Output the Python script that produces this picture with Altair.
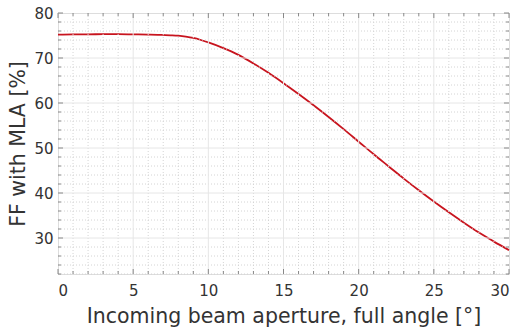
import altair as alt
import pandas as pd

# data
angle = [0, 1, 2, 3, 4, 5, 6, 7, 7.5, 8, 8.5, 9, 9.5, 10, 11, 12, 13, 14, 15, 16, 17, 18, 19, 20,
         21, 22, 23, 24, 25, 26, 27, 28, 29, 30]
ff = [75.2, 75.25, 75.25, 75.3, 75.3, 75.25, 75.2, 75.12, 75.05, 74.95, 74.75, 74.45, 74.0, 73.45,
      72.2, 70.7, 68.8, 66.7, 64.4, 62.0, 59.5, 56.9, 54.2, 51.4, 48.6, 45.9, 43.2, 40.6,
      38.1, 35.7, 33.4, 31.2, 29.2, 27.3]

x_major = [0, 5, 10, 15, 20, 25, 30]
y_major = [30, 40, 50, 60, 70, 80]
x_minor = [v for v in range(0, 31) if v % 5 != 0]
y_minor = [v for v in range(22, 81, 2) if v % 10 != 0]

W, H = 451, 261
X_DOM = [0, 30]
Y_DOM = [22, 80]
FONT = "DejaVu Sans"

xs = alt.Scale(domain=X_DOM, nice=False, zero=False)
ys = alt.Scale(domain=Y_DOM, nice=False, zero=False)

x_axis = alt.Axis(values=x_major, title="Incoming beam aperture, full angle [°]",
                  grid=False, ticks=False, domain=False, labelPadding=9,
                  labelFontSize=15, titleFontSize=20.5, titlePadding=8,
                  labelColor="#333333", titleColor="#333333",
                  labelFont=FONT, titleFont=FONT, titleFontWeight="normal")
y_axis = alt.Axis(values=y_major, title="FF with MLA [%]",
                  grid=False, ticks=False, domain=False, labelPadding=5,
                  labelFontSize=15, titleFontSize=20.5, titlePadding=5,
                  labelColor="#333333", titleColor="#333333",
                  labelFont=FONT, titleFont=FONT, titleFontWeight="normal")

df = pd.DataFrame({"angle": angle, "ff": ff})
dxm = pd.DataFrame({"v": x_minor})
dym = pd.DataFrame({"v": y_minor})
dxM = pd.DataFrame({"v": x_major[1:-1]})
dyM = pd.DataFrame({"v": y_major[:-1]})
dxMall = pd.DataFrame({"v": x_major})
dyMall = pd.DataFrame({"v": y_major})

minor_col = "#d4d4d4"
major_col = "#e6e6e6"
tick_col = "#888888"

def X(f):
    return alt.X(f, type="quantitative", scale=xs, axis=x_axis)

def Y(f):
    return alt.Y(f, type="quantitative", scale=ys, axis=y_axis)

gx_minor = alt.Chart(dxm).mark_rule(color=minor_col, strokeDash=[1, 2], strokeWidth=1).encode(x=X("v"))
gy_minor = alt.Chart(dym).mark_rule(color=minor_col, strokeDash=[1, 2], strokeWidth=1).encode(y=Y("v"))
gx_major = alt.Chart(dxM).mark_rule(color=major_col, strokeWidth=1).encode(x=X("v"))
gy_major = alt.Chart(dyM).mark_rule(color=major_col, strokeWidth=1).encode(y=Y("v"))

def xticks(d, L):
    b = alt.Chart(d).mark_rule(color=tick_col, strokeWidth=1).encode(
        x=X("v"), y=alt.value(H), y2=alt.value(H - L))
    t = alt.Chart(d).mark_rule(color=tick_col, strokeWidth=1).encode(
        x=X("v"), y=alt.value(0), y2=alt.value(L))
    return [b, t]

def yticks(d, L):
    l = alt.Chart(d).mark_rule(color=tick_col, strokeWidth=1).encode(
        y=Y("v"), x=alt.value(0), x2=alt.value(L))
    r = alt.Chart(d).mark_rule(color=tick_col, strokeWidth=1).encode(
        y=Y("v"), x=alt.value(W), x2=alt.value(W - L))
    return [l, r]

line = alt.Chart(df).mark_line(color="#c8141e", strokeWidth=1.8, interpolate="monotone").encode(
    x=X("angle"), y=Y("ff"))

chart = alt.layer(
    line, gx_minor, gy_minor, gx_major, gy_major,
    *xticks(dxm, 3), *xticks(dxMall, 5),
    *yticks(dym, 3), *yticks(dyMall, 5),
).properties(
    width=W, height=H,
    autosize=alt.AutoSizeParams(type="none"),
    padding={"left": 58, "top": 13, "right": 10, "bottom": 56},
).configure_view(stroke="#888888", strokeWidth=1).configure(background="white")

chart.save("out.html", embed_options={"renderer": "svg", "actions": False})
